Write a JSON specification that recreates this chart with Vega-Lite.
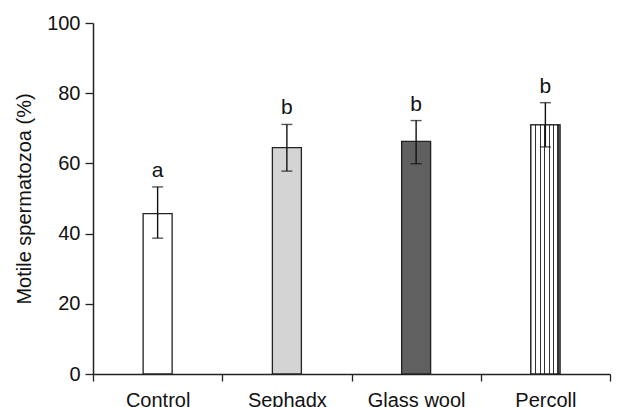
{
  "$schema": "https://vega.github.io/schema/vega-lite/v6.json",
  "autosize": "none",
  "width": 517,
  "height": 351,
  "padding": {"left": 93, "top": 23, "right": 25, "bottom": 33},
  "background": "white",
  "config": {
    "view": {"stroke": null},
    "font": "Liberation Sans",
    "axis": {"labelFont": "Liberation Sans", "titleFont": "Liberation Sans", "labelColor": "#111", "titleColor": "#111", "domainColor": "#222", "tickColor": "#222", "domainWidth": 1.5, "tickWidth": 1.3, "grid": false, "labelOverlap": false}
  },
  "data": {
    "values": [
      {"group": "Control", "mean": 45.7, "lo": 38.7, "hi": 53.3, "sig": "a"},
      {"group": "Sephadx", "mean": 64.5, "lo": 57.8, "hi": 71.1, "sig": "b"},
      {"group": "Glass wool", "mean": 66.3, "lo": 59.9, "hi": 72.2, "sig": "b"},
      {"group": "Percoll", "mean": 71.0, "lo": 64.7, "hi": 77.3, "sig": "b"}
    ]
  },
  "encoding": {
    "x": {
      "field": "group", "type": "nominal", "sort": null,
      "scale": {"paddingInner": 0, "paddingOuter": 0},
      "axis": {"title": null, "labelAngle": 0, "labelFontSize": 20, "tickBand": "extent", "tickSize": 7, "labelPadding": 9}
    }
  },
  "layer": [
    {
      "mark": {"type": "bar", "width": 29, "stroke": "#222", "strokeWidth": 1.3},
      "encoding": {
        "y": {
          "field": "mean", "type": "quantitative",
          "scale": {"domain": [0, 100]},
          "axis": {"title": "Motile spermatozoa (%)", "titleFontSize": 20, "titleFontWeight": "normal", "labelFontSize": 20, "values": [0, 20, 40, 60, 80, 100], "tickSize": 8, "labelPadding": 5, "titlePadding": 12}
        },
        "fill": {
          "field": "group", "type": "nominal",
          "scale": {"domain": ["Control", "Sephadx", "Glass wool", "Percoll"], "range": ["#ffffff", "#d4d4d4", "#606060", "#ffffff"]},
          "legend": null
        }
      }
    },
    {
      "transform": [{"filter": "datum.group === 'Percoll'"}],
      "mark": {
        "type": "bar", "width": 29, "stroke": "#222", "strokeWidth": 1.3,
        "fill": {
          "gradient": "linear", "x1": 0, "y1": 0, "x2": 1, "y2": 0,
          "stops": [
            {"offset": 0, "color": "#ffffff"},
            {"offset": 0.145, "color": "#ffffff"}, {"offset": 0.145, "color": "#333333"}, {"offset": 0.185, "color": "#333333"}, {"offset": 0.185, "color": "#ffffff"},
            {"offset": 0.3, "color": "#ffffff"}, {"offset": 0.3, "color": "#333333"}, {"offset": 0.34, "color": "#333333"}, {"offset": 0.34, "color": "#ffffff"},
            {"offset": 0.46, "color": "#ffffff"}, {"offset": 0.46, "color": "#333333"}, {"offset": 0.5, "color": "#333333"}, {"offset": 0.5, "color": "#ffffff"},
            {"offset": 0.61, "color": "#ffffff"}, {"offset": 0.61, "color": "#333333"}, {"offset": 0.65, "color": "#333333"}, {"offset": 0.65, "color": "#ffffff"},
            {"offset": 0.765, "color": "#ffffff"}, {"offset": 0.765, "color": "#333333"}, {"offset": 0.805, "color": "#333333"}, {"offset": 0.805, "color": "#ffffff"},
            {"offset": 0.915, "color": "#ffffff"}, {"offset": 0.915, "color": "#333333"}, {"offset": 0.955, "color": "#333333"}, {"offset": 0.955, "color": "#ffffff"},
            {"offset": 1, "color": "#ffffff"}
          ]
        }
      },
      "encoding": {
        "y": {"field": "mean", "type": "quantitative"}
      }
    },
    {
      "mark": {"type": "rule", "color": "#111", "strokeWidth": 1.4},
      "encoding": {
        "y": {"field": "lo", "type": "quantitative"},
        "y2": {"field": "hi"}
      }
    },
    {
      "mark": {"type": "tick", "color": "#111", "size": 11, "thickness": 1.4},
      "encoding": {
        "y": {"field": "lo", "type": "quantitative"}
      }
    },
    {
      "mark": {"type": "tick", "color": "#111", "size": 11, "thickness": 1.4},
      "encoding": {
        "y": {"field": "hi", "type": "quantitative"}
      }
    },
    {
      "mark": {"type": "text", "fontSize": 21, "font": "Liberation Sans", "color": "#111", "baseline": "alphabetic", "dy": -10},
      "encoding": {
        "y": {"field": "hi", "type": "quantitative"},
        "text": {"field": "sig"}
      }
    }
  ]
}
